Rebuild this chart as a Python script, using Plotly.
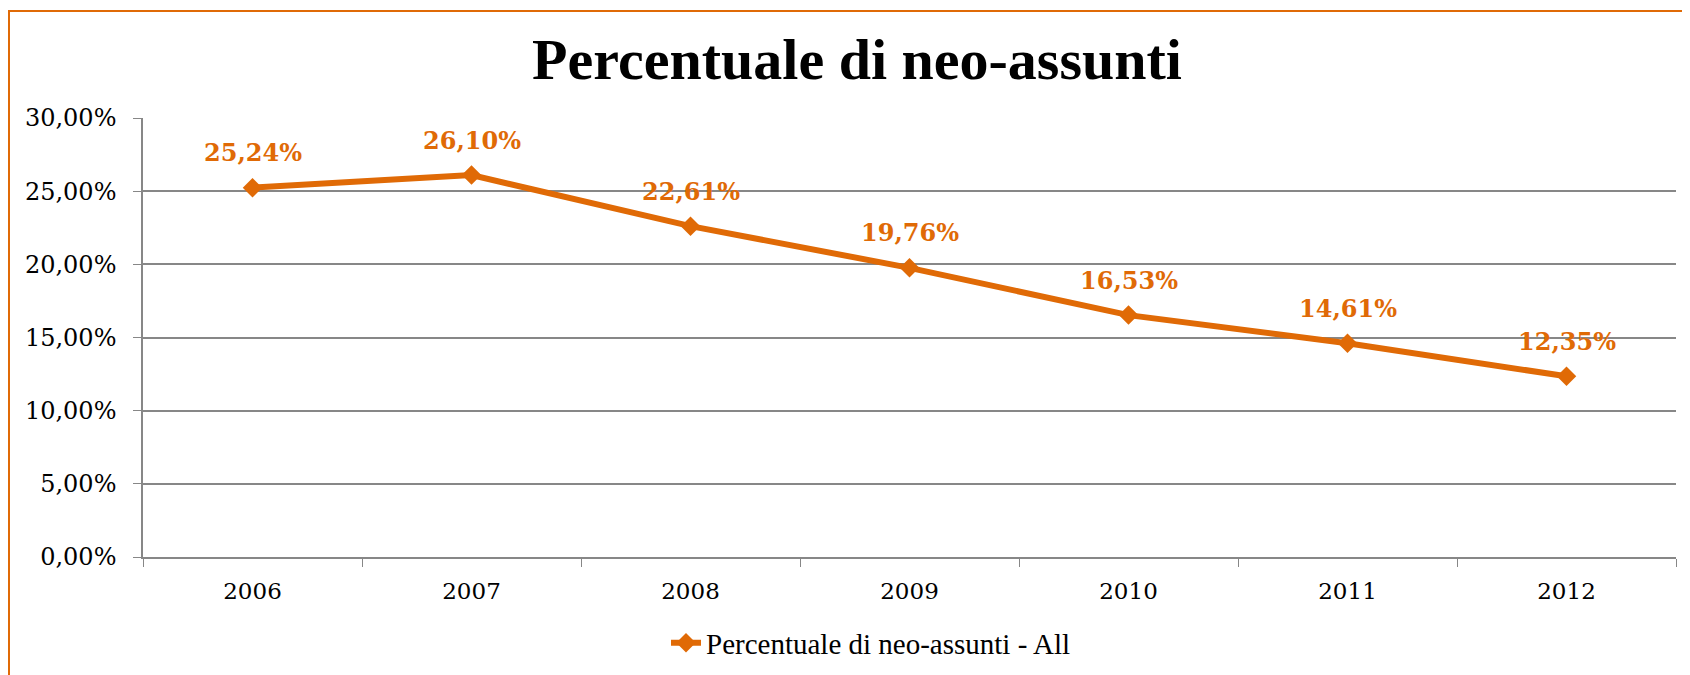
import plotly.graph_objects as go

years = ["2006", "2007", "2008", "2009", "2010", "2011", "2012"]
values = [25.24, 26.10, 22.61, 19.76, 16.53, 14.61, 12.35]
series_name = "Percentuale di neo-assunti - All"
title_text = "Percentuale di neo-assunti"
y_ticks = [0, 5, 10, 15, 20, 25, 30]

ORANGE = "#E06A06"
GRID = "#878787"
SERIF = "DejaVu Serif"

def it_pct(v):
    return f"{v:.2f}".replace(".", ",") + "%"

labels = [it_pct(v) for v in values]
y_ticktext = [it_pct(v) for v in y_ticks]

# The page body adds an 8px offset; work in page pixels and convert.
OFF = 8
PAGE_W, PAGE_H = 1690, 675
W, H = PAGE_W - OFF, PAGE_H - OFF
PLOT_X0, PLOT_X1, PLOT_Y0, PLOT_Y1 = 143, 1676, 118, 557  # page px
L, R = PLOT_X0 - OFF, W - (PLOT_X1 - OFF)
T, B = PLOT_Y0 - OFF, H - (PLOT_Y1 - OFF)
pw, ph = W - L - R, H - T - B

def page_to_paper_x(px):
    return (px - OFF - L) / pw

def page_to_paper_y(py):
    return (H - B - (py - OFF)) / ph

def page_to_cont_x(px):
    return (px - OFF) / W

def page_to_cont_y(py):
    return 1 - (py - OFF) / H

fig = go.Figure()
fig.add_trace(go.Scatter(
    x=years, y=values, mode="lines+markers", name=series_name,
    line=dict(color=ORANGE, width=6),
    marker=dict(symbol="diamond", size=15, color=ORANGE),
    cliponaxis=False,
))

for i, (yv, t) in enumerate(zip(values, labels)):
    fig.add_annotation(x=i, y=yv, xref="x", yref="y", text=t, showarrow=False, yshift=35,
                       font=dict(family=SERIF, size=24, color=ORANGE, weight="bold"))

fig.add_shape(type="rect", xref="paper", yref="paper",
              x0=page_to_paper_x(9), x1=page_to_paper_x(PAGE_W + 20),
              y0=page_to_paper_y(PAGE_H + 20), y1=page_to_paper_y(11),
              line=dict(color=ORANGE, width=2), layer="below")

fig.update_layout(
    width=W, height=H,
    margin=dict(l=L, r=R, t=T, b=B, autoexpand=False),
    paper_bgcolor="white", plot_bgcolor="white",
    title=dict(text=title_text, x=page_to_cont_x(857), xref="container", xanchor="center",
               y=page_to_cont_y(59), yref="container", yanchor="middle",
               font=dict(family="Liberation Serif", size=58, color="black", weight="bold")),
    showlegend=True,
    legend=dict(orientation="h", x=page_to_cont_x(666), xref="container", xanchor="left",
                y=page_to_cont_y(643), yref="container", yanchor="middle",
                font=dict(family="Liberation Serif", size=29, color="black"),
                bgcolor="rgba(0,0,0,0)"),
    xaxis=dict(type="category", categoryorder="array", categoryarray=years,
               range=[-0.5, len(years) - 0.5], automargin=False,
               tickson="boundaries", ticks="outside", ticklen=8,
               tickcolor=GRID, showline=True, linecolor=GRID, linewidth=1.5,
               showgrid=False, tickangle=0, ticklabelstandoff=13,
               tickfont=dict(family=SERIF, size=23, color="black")),
    yaxis=dict(range=[0, 30], tickvals=y_ticks, ticktext=y_ticktext, automargin=False,
               ticks="outside", ticklen=8, tickcolor=GRID, showline=True,
               linecolor=GRID, linewidth=1.5, showgrid=True, gridcolor=GRID,
               gridwidth=1.5, zeroline=False, ticklabelstandoff=12,
               tickfont=dict(family=SERIF, size=24, color="black")),
)

fig.write_html("out.html")
